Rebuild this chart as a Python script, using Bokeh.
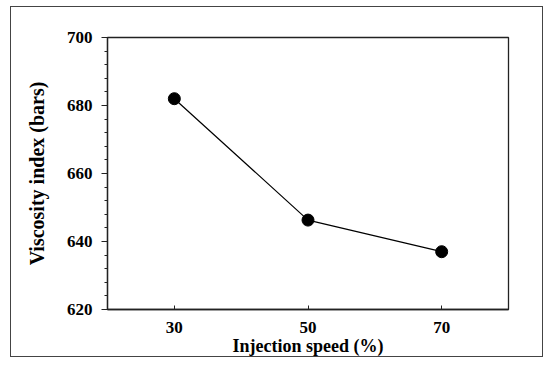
from bokeh.plotting import figure
from bokeh.models import Range1d, FixedTicker, SingleIntervalTicker, ColumnDataSource
from bokeh.embed import file_html
from bokeh.resources import INLINE

speed = [30, 50, 70]
viscosity = [682.0, 646.3, 637.0]
x_ticks = [30, 50, 70]

src = ColumnDataSource(dict(x=speed, y=viscosity))

p = figure(width=533, height=351, output_backend="svg", toolbar_location=None,
           x_range=Range1d(20, 80), y_range=Range1d(620, 700),
           min_border_left=96, min_border_right=36, min_border_top=30, min_border_bottom=47)
p.margin = (6, 0, 0, 10)
p.styles = {"border": "1.5px solid #444", "box-sizing": "border-box"}
p.grid.visible = False
p.outline_line_color = "#222"
p.outline_line_width = 1.3

p.line("x", "y", source=src, line_color="black", line_width=1.2)
p.scatter("x", "y", source=src, size=12, fill_color="black", line_color="black")

font = "Liberation Serif"
xa = p.xaxis[0]
xa.ticker = FixedTicker(ticks=x_ticks)
xa.major_tick_in = 4
xa.major_tick_out = 0
xa.major_label_standoff = 12
xa.axis_label = "Injection speed (%)"
xa.axis_label_standoff = 0
xa.axis_label_text_font_size = "18px"
ya = p.yaxis[0]
ya.ticker = SingleIntervalTicker(interval=20, num_minor_ticks=5)
ya.major_tick_in = 0
ya.major_tick_out = 6
ya.minor_tick_in = 0
ya.minor_tick_out = 3
ya.major_label_standoff = 9
ya.axis_label = "Viscosity index (bars)"
ya.axis_label_standoff = 16
ya.axis_label_text_font_size = "20px"

for ax in (xa, ya):
    ax.axis_line_color = "#222"
    ax.axis_line_width = 1.3
    ax.major_tick_line_color = "#222"
    ax.minor_tick_line_color = "#222" if ax is ya else None
    ax.major_label_text_font = font
    ax.major_label_text_font_style = "bold"
    ax.major_label_text_font_size = "17px"
    ax.major_label_text_color = "black"
    ax.axis_label_text_font = font
    ax.axis_label_text_font_style = "bold"
    ax.axis_label_text_color = "black"

open("out.html", "w").write(file_html(p, INLINE))
